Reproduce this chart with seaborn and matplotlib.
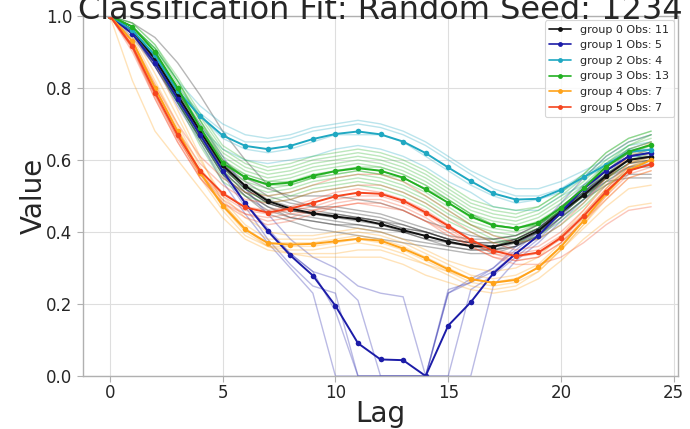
import numpy as np
import pandas as pd
import matplotlib
matplotlib.use("Agg")
import matplotlib.pyplot as plt
import seaborn as sns

# ---------------- data ----------------
lags = list(range(25))

group_names = ["group 0", "group 1", "group 2", "group 3", "group 4", "group 5"]
group_colors = ["#111111", "#1c1ca8", "#1fa8c2", "#22b022", "#ffa31a", "#f5451f"]

mean_g0 = [1.0, 0.96, 0.88, 0.78, 0.68, 0.585, 0.528, 0.486, 0.465, 0.452, 0.443, 0.435, 0.422,
           0.405, 0.389, 0.373, 0.361, 0.359, 0.373, 0.404, 0.455, 0.503, 0.556, 0.600, 0.609]
mean_g1 = [1.0, 0.95, 0.87, 0.77, 0.67, 0.57, 0.48, 0.403, 0.335, 0.279, 0.195, 0.091, 0.046,
           0.044, 0.0, 0.14, 0.205, 0.285, 0.34, 0.39, 0.454, 0.52, 0.57, 0.61, 0.62]
mean_g2 = [1.0, 0.96, 0.89, 0.792, 0.722, 0.668, 0.639, 0.63, 0.639, 0.658, 0.672, 0.679, 0.671,
           0.651, 0.619, 0.579, 0.541, 0.507, 0.490, 0.492, 0.517, 0.552, 0.586, 0.623, 0.628]
mean_g3 = [1.0, 0.97, 0.90, 0.80, 0.69, 0.591, 0.552, 0.532, 0.537, 0.556, 0.569, 0.577, 0.570,
           0.551, 0.518, 0.481, 0.443, 0.418, 0.410, 0.426, 0.466, 0.521, 0.581, 0.623, 0.642]
mean_g4 = [1.0, 0.93, 0.80, 0.68, 0.565, 0.473, 0.407, 0.369, 0.365, 0.367, 0.374, 0.381, 0.376,
           0.354, 0.327, 0.296, 0.269, 0.259, 0.267, 0.302, 0.359, 0.431, 0.507, 0.572, 0.600]
mean_g5 = [1.0, 0.915, 0.787, 0.669, 0.570, 0.507, 0.468, 0.454, 0.465, 0.481, 0.499, 0.509, 0.506,
           0.487, 0.454, 0.417, 0.378, 0.348, 0.333, 0.343, 0.384, 0.444, 0.512, 0.570, 0.588]
means = [mean_g0, mean_g1, mean_g2, mean_g3, mean_g4, mean_g5]

obs_g0 = [
    [1.0, 0.98, 0.94, 0.87, 0.78, 0.68, 0.60, 0.53, 0.49, 0.47, 0.46, 0.45, 0.44, 0.42, 0.40, 0.38, 0.37, 0.37, 0.38, 0.41, 0.46, 0.51, 0.56, 0.60, 0.61],
    [1.0, 0.96, 0.89, 0.79, 0.69, 0.60, 0.55, 0.52, 0.50, 0.50, 0.50, 0.49, 0.48, 0.46, 0.43, 0.41, 0.39, 0.38, 0.39, 0.42, 0.47, 0.52, 0.58, 0.63, 0.65],
    [1.0, 0.96, 0.88, 0.78, 0.68, 0.59, 0.54, 0.50, 0.48, 0.47, 0.47, 0.46, 0.45, 0.43, 0.41, 0.39, 0.38, 0.38, 0.39, 0.42, 0.47, 0.52, 0.57, 0.62, 0.63],
    [1.0, 0.95, 0.87, 0.77, 0.67, 0.58, 0.52, 0.48, 0.46, 0.45, 0.44, 0.44, 0.43, 0.41, 0.40, 0.38, 0.37, 0.36, 0.38, 0.41, 0.46, 0.51, 0.56, 0.61, 0.62],
    [1.0, 0.96, 0.87, 0.77, 0.67, 0.57, 0.51, 0.47, 0.45, 0.44, 0.43, 0.42, 0.41, 0.40, 0.38, 0.37, 0.36, 0.35, 0.37, 0.40, 0.45, 0.50, 0.55, 0.59, 0.60],
    [1.0, 0.95, 0.86, 0.76, 0.66, 0.57, 0.51, 0.47, 0.44, 0.43, 0.42, 0.41, 0.40, 0.38, 0.37, 0.36, 0.35, 0.35, 0.36, 0.40, 0.45, 0.50, 0.55, 0.58, 0.58],
    [1.0, 0.96, 0.87, 0.76, 0.66, 0.56, 0.50, 0.45, 0.43, 0.41, 0.40, 0.39, 0.38, 0.37, 0.36, 0.35, 0.34, 0.34, 0.36, 0.39, 0.44, 0.49, 0.53, 0.56, 0.56],
    [1.0, 0.96, 0.89, 0.79, 0.69, 0.59, 0.53, 0.49, 0.47, 0.46, 0.45, 0.44, 0.43, 0.42, 0.40, 0.38, 0.37, 0.36, 0.38, 0.41, 0.46, 0.50, 0.55, 0.59, 0.60],
    [1.0, 0.95, 0.87, 0.77, 0.67, 0.58, 0.52, 0.48, 0.46, 0.45, 0.45, 0.44, 0.43, 0.41, 0.40, 0.38, 0.37, 0.37, 0.38, 0.41, 0.46, 0.51, 0.57, 0.61, 0.62],
    [1.0, 0.96, 0.88, 0.78, 0.68, 0.58, 0.52, 0.48, 0.46, 0.45, 0.44, 0.43, 0.42, 0.40, 0.38, 0.36, 0.35, 0.35, 0.36, 0.39, 0.44, 0.49, 0.55, 0.60, 0.61],
    [1.0, 0.95, 0.86, 0.76, 0.66, 0.56, 0.50, 0.46, 0.44, 0.43, 0.42, 0.42, 0.41, 0.40, 0.39, 0.37, 0.36, 0.36, 0.37, 0.40, 0.45, 0.50, 0.54, 0.55, 0.55],
]
obs_g1 = [
    [1.0, 0.94, 0.86, 0.75, 0.65, 0.54, 0.45, 0.37, 0.30, 0.23, 0.0, 0.0, 0.0, 0.0, 0.0, 0.0, 0.24, 0.28, 0.33, 0.38, 0.44, 0.51, 0.56, 0.60, 0.61],
    [1.0, 0.95, 0.86, 0.76, 0.66, 0.56, 0.47, 0.38, 0.31, 0.25, 0.23, 0.0, 0.0, 0.0, 0.0, 0.0, 0.0, 0.25, 0.32, 0.37, 0.43, 0.49, 0.54, 0.58, 0.59],
    [1.0, 0.95, 0.87, 0.77, 0.67, 0.57, 0.48, 0.41, 0.34, 0.29, 0.27, 0.21, 0.0, 0.0, 0.0, 0.23, 0.26, 0.29, 0.34, 0.39, 0.46, 0.52, 0.57, 0.61, 0.62],
    [1.0, 0.96, 0.88, 0.79, 0.70, 0.61, 0.52, 0.45, 0.38, 0.33, 0.30, 0.25, 0.23, 0.22, 0.0, 0.23, 0.27, 0.30, 0.36, 0.41, 0.48, 0.55, 0.61, 0.65, 0.67],
    [1.0, 0.95, 0.88, 0.78, 0.67, 0.57, 0.48, 0.40, 0.34, 0.29, 0.18, 0.0, 0.0, 0.0, 0.0, 0.24, 0.26, 0.30, 0.35, 0.40, 0.46, 0.53, 0.57, 0.61, 0.61],
]
obs_g2 = [
    [1.0, 0.97, 0.91, 0.82, 0.75, 0.70, 0.67, 0.66, 0.67, 0.69, 0.70, 0.71, 0.70, 0.68, 0.65, 0.61, 0.57, 0.54, 0.52, 0.52, 0.54, 0.57, 0.60, 0.64, 0.65],
    [1.0, 0.96, 0.89, 0.80, 0.73, 0.68, 0.65, 0.65, 0.66, 0.68, 0.69, 0.70, 0.69, 0.67, 0.64, 0.60, 0.56, 0.52, 0.50, 0.50, 0.52, 0.56, 0.59, 0.63, 0.63],
    [1.0, 0.96, 0.89, 0.79, 0.72, 0.66, 0.63, 0.62, 0.63, 0.65, 0.67, 0.67, 0.67, 0.65, 0.61, 0.57, 0.53, 0.50, 0.48, 0.49, 0.51, 0.55, 0.58, 0.62, 0.62],
    [1.0, 0.95, 0.87, 0.76, 0.69, 0.63, 0.60, 0.59, 0.60, 0.61, 0.63, 0.64, 0.63, 0.61, 0.58, 0.54, 0.51, 0.47, 0.46, 0.46, 0.50, 0.53, 0.57, 0.61, 0.61],
]
obs_g3 = [
    [1.0, 0.98, 0.92, 0.83, 0.73, 0.64, 0.60, 0.58, 0.59, 0.61, 0.62, 0.63, 0.62, 0.60, 0.57, 0.53, 0.49, 0.47, 0.46, 0.47, 0.51, 0.56, 0.62, 0.66, 0.68],
    [1.0, 0.97, 0.91, 0.82, 0.72, 0.63, 0.59, 0.57, 0.58, 0.60, 0.61, 0.62, 0.61, 0.59, 0.56, 0.52, 0.48, 0.46, 0.45, 0.47, 0.51, 0.56, 0.62, 0.66, 0.68],
    [1.0, 0.97, 0.91, 0.82, 0.71, 0.62, 0.58, 0.56, 0.57, 0.59, 0.60, 0.61, 0.60, 0.58, 0.55, 0.51, 0.47, 0.45, 0.44, 0.46, 0.50, 0.55, 0.61, 0.65, 0.67],
    [1.0, 0.97, 0.91, 0.81, 0.71, 0.61, 0.57, 0.55, 0.56, 0.58, 0.59, 0.60, 0.59, 0.57, 0.54, 0.50, 0.46, 0.44, 0.43, 0.45, 0.49, 0.54, 0.60, 0.64, 0.66],
    [1.0, 0.97, 0.90, 0.80, 0.70, 0.60, 0.56, 0.54, 0.55, 0.57, 0.58, 0.59, 0.58, 0.56, 0.53, 0.49, 0.45, 0.43, 0.42, 0.44, 0.48, 0.53, 0.59, 0.63, 0.65],
    [1.0, 0.97, 0.90, 0.80, 0.69, 0.59, 0.55, 0.53, 0.54, 0.56, 0.57, 0.58, 0.57, 0.55, 0.52, 0.48, 0.44, 0.42, 0.41, 0.43, 0.47, 0.52, 0.58, 0.62, 0.64],
    [1.0, 0.96, 0.89, 0.79, 0.69, 0.59, 0.56, 0.54, 0.54, 0.55, 0.56, 0.57, 0.56, 0.55, 0.52, 0.49, 0.45, 0.42, 0.41, 0.42, 0.46, 0.52, 0.58, 0.62, 0.64],
    [1.0, 0.97, 0.90, 0.79, 0.68, 0.58, 0.54, 0.52, 0.53, 0.55, 0.56, 0.57, 0.56, 0.54, 0.51, 0.47, 0.43, 0.41, 0.40, 0.42, 0.46, 0.51, 0.57, 0.61, 0.63],
    [1.0, 0.96, 0.89, 0.78, 0.67, 0.57, 0.53, 0.51, 0.52, 0.54, 0.55, 0.56, 0.55, 0.53, 0.50, 0.46, 0.42, 0.40, 0.39, 0.41, 0.45, 0.50, 0.56, 0.60, 0.62],
    [1.0, 0.96, 0.88, 0.77, 0.66, 0.56, 0.52, 0.50, 0.51, 0.53, 0.54, 0.55, 0.54, 0.52, 0.49, 0.45, 0.42, 0.39, 0.38, 0.40, 0.44, 0.49, 0.55, 0.59, 0.61],
    [1.0, 0.96, 0.88, 0.77, 0.65, 0.55, 0.51, 0.49, 0.50, 0.52, 0.53, 0.54, 0.53, 0.51, 0.48, 0.44, 0.41, 0.38, 0.37, 0.39, 0.43, 0.48, 0.54, 0.58, 0.60],
    [1.0, 0.96, 0.87, 0.76, 0.64, 0.54, 0.50, 0.48, 0.49, 0.51, 0.52, 0.53, 0.52, 0.50, 0.47, 0.43, 0.40, 0.37, 0.37, 0.38, 0.42, 0.47, 0.53, 0.57, 0.59],
    [1.0, 0.98, 0.92, 0.82, 0.71, 0.60, 0.55, 0.53, 0.53, 0.55, 0.57, 0.58, 0.58, 0.56, 0.53, 0.49, 0.45, 0.42, 0.41, 0.42, 0.46, 0.52, 0.59, 0.64, 0.67],
]
obs_g4 = [
    [1.0, 0.95, 0.84, 0.72, 0.60, 0.50, 0.44, 0.40, 0.39, 0.39, 0.40, 0.41, 0.40, 0.38, 0.35, 0.32, 0.30, 0.29, 0.30, 0.33, 0.39, 0.46, 0.54, 0.61, 0.65],
    [1.0, 0.94, 0.82, 0.70, 0.58, 0.49, 0.42, 0.38, 0.38, 0.38, 0.39, 0.40, 0.39, 0.37, 0.34, 0.31, 0.28, 0.27, 0.28, 0.31, 0.37, 0.45, 0.52, 0.59, 0.62],
    [1.0, 0.93, 0.81, 0.69, 0.57, 0.48, 0.41, 0.37, 0.37, 0.37, 0.38, 0.39, 0.38, 0.36, 0.33, 0.30, 0.27, 0.26, 0.27, 0.30, 0.36, 0.44, 0.52, 0.58, 0.61],
    [1.0, 0.93, 0.80, 0.68, 0.56, 0.47, 0.40, 0.36, 0.36, 0.36, 0.37, 0.38, 0.37, 0.35, 0.32, 0.29, 0.26, 0.25, 0.26, 0.29, 0.35, 0.42, 0.50, 0.57, 0.60],
    [1.0, 0.92, 0.79, 0.67, 0.55, 0.46, 0.39, 0.36, 0.35, 0.35, 0.36, 0.37, 0.36, 0.34, 0.31, 0.28, 0.25, 0.24, 0.25, 0.29, 0.35, 0.42, 0.49, 0.55, 0.57],
    [1.0, 0.82, 0.68, 0.60, 0.52, 0.44, 0.38, 0.35, 0.34, 0.34, 0.34, 0.35, 0.35, 0.33, 0.31, 0.29, 0.27, 0.26, 0.27, 0.30, 0.35, 0.41, 0.47, 0.52, 0.53],
    [1.0, 0.96, 0.87, 0.74, 0.61, 0.48, 0.41, 0.36, 0.34, 0.33, 0.33, 0.33, 0.33, 0.31, 0.28, 0.26, 0.24, 0.23, 0.24, 0.27, 0.32, 0.38, 0.43, 0.47, 0.48],
]
obs_g5 = [
    [1.0, 0.93, 0.81, 0.70, 0.61, 0.55, 0.51, 0.50, 0.51, 0.53, 0.55, 0.56, 0.56, 0.54, 0.50, 0.46, 0.42, 0.39, 0.37, 0.38, 0.42, 0.48, 0.55, 0.61, 0.63],
    [1.0, 0.92, 0.80, 0.68, 0.59, 0.53, 0.49, 0.48, 0.49, 0.51, 0.52, 0.53, 0.53, 0.51, 0.48, 0.44, 0.40, 0.37, 0.35, 0.36, 0.40, 0.46, 0.53, 0.59, 0.61],
    [1.0, 0.92, 0.79, 0.67, 0.57, 0.51, 0.47, 0.46, 0.47, 0.49, 0.51, 0.52, 0.51, 0.49, 0.46, 0.42, 0.38, 0.35, 0.34, 0.35, 0.39, 0.45, 0.52, 0.58, 0.60],
    [1.0, 0.91, 0.78, 0.66, 0.56, 0.50, 0.46, 0.45, 0.46, 0.47, 0.49, 0.50, 0.50, 0.48, 0.45, 0.41, 0.37, 0.34, 0.33, 0.34, 0.38, 0.44, 0.51, 0.57, 0.59],
    [1.0, 0.91, 0.78, 0.66, 0.56, 0.49, 0.45, 0.44, 0.45, 0.46, 0.48, 0.49, 0.49, 0.47, 0.44, 0.40, 0.37, 0.34, 0.32, 0.33, 0.37, 0.43, 0.50, 0.56, 0.58],
    [1.0, 0.90, 0.77, 0.65, 0.55, 0.48, 0.44, 0.42, 0.43, 0.45, 0.47, 0.48, 0.48, 0.46, 0.43, 0.39, 0.36, 0.33, 0.32, 0.33, 0.37, 0.43, 0.49, 0.55, 0.57],
    [1.0, 0.91, 0.77, 0.65, 0.55, 0.48, 0.45, 0.43, 0.44, 0.46, 0.47, 0.48, 0.47, 0.46, 0.43, 0.40, 0.36, 0.33, 0.31, 0.31, 0.33, 0.37, 0.42, 0.46, 0.47],
]
observations = [obs_g0, obs_g1, obs_g2, obs_g3, obs_g4, obs_g5]

x_ticks = [0, 5, 10, 15, 20, 25]
y_ticks = [0.0, 0.2, 0.4, 0.6, 0.8, 1.0]
title_text = "Classification Fit: Random Seed: 1234"

# ---------------- tables ----------------
thin_rows = []
for gi, obs in enumerate(observations):
    for oi, series in enumerate(obs):
        for lag, v in zip(lags, series):
            thin_rows.append({"lag": lag, "value": v, "group": group_names[gi], "unit": f"{gi}-{oi}"})
thin_df = pd.DataFrame(thin_rows)

labels = [f"{g} Obs: {len(o)}" for g, o in zip(group_names, observations)]
mean_rows = []
for gi, m in enumerate(means):
    for lag, v in zip(lags, m):
        mean_rows.append({"lag": lag, "value": v, "label": labels[gi]})
mean_df = pd.DataFrame(mean_rows)

# ---------------- plot ----------------
sns.set_style("whitegrid", {"axes.edgecolor": "#b0b0b0", "grid.color": "#dedede",
                            "xtick.bottom": True, "ytick.left": True})
plt.rcParams["font.family"] = ["DejaVu Sans"]

fig = plt.figure(figsize=(6.9, 4.29), dpi=100)
ax = fig.add_axes([0.120, 0.1235, 0.863, 0.8395])

sns.lineplot(data=thin_df, x="lag", y="value", hue="group", units="unit", estimator=None,
             palette=dict(zip(group_names, group_colors)), alpha=0.3, linewidth=1.0,
             legend=False, ax=ax, sort=False)
sns.lineplot(data=mean_df, x="lag", y="value", hue="label",
             palette=dict(zip(labels, group_colors)), linewidth=1.4, marker="o",
             markersize=4, markeredgewidth=0, ax=ax, sort=False)

ax.set_xlim(-1.2, 25.2)
ax.set_ylim(0, 1.0)
ax.set_xticks(x_ticks)
ax.set_yticks(y_ticks)
ax.tick_params(axis="both", labelsize=12, length=4, color="#b0b0b0", width=0.8)
ax.tick_params(axis="x", pad=2)
ax.set_xlabel("Lag", fontsize=20, labelpad=-2)
ax.set_ylabel("Value", fontsize=20, labelpad=-1)
ax.set_title(title_text, fontsize=23, y=1.0, pad=-2)
for s in ax.spines.values():
    s.set_linewidth(1.0)

leg = ax.legend(loc="upper right", fontsize=8, frameon=True, framealpha=0.85,
                edgecolor="#d0d0d0", handlelength=2.0, borderaxespad=0.4)
leg.get_frame().set_linewidth(0.8)
for h in leg.get_lines():
    h.set_markersize(3.5)
    h.set_linewidth(1.2)

fig.savefig("out.png", dpi=100)
